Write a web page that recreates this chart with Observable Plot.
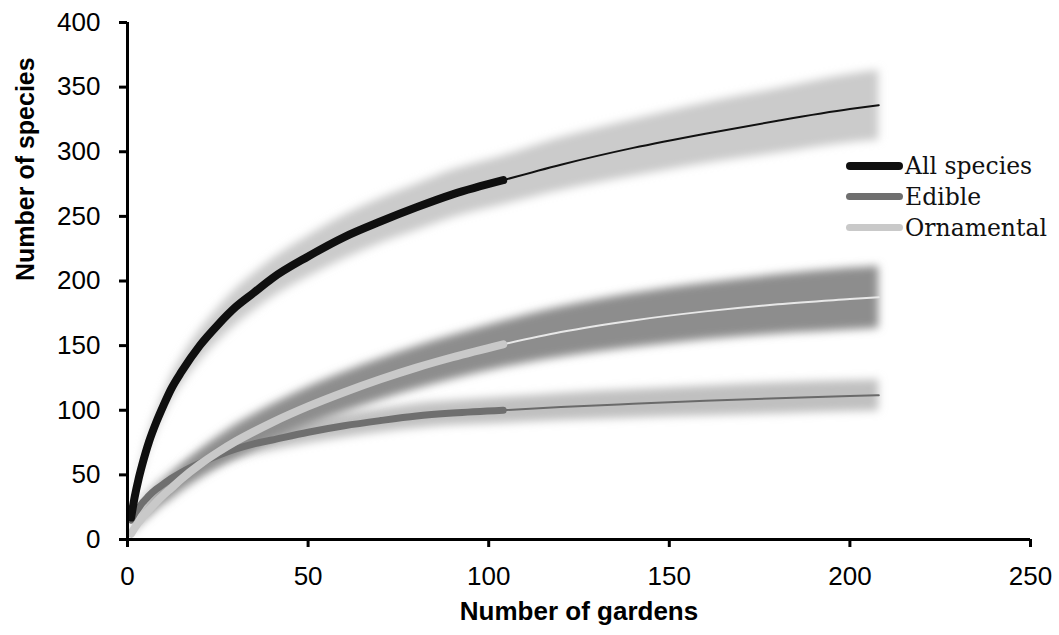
<!DOCTYPE html>
<html>
<head>
<meta charset="utf-8">
<script src="https://cdn.jsdelivr.net/npm/d3@7"></script>
<script src="https://cdn.jsdelivr.net/npm/@observablehq/plot@0.6"></script>
<style>
  html, body { margin: 0; padding: 0; background: #fff; }
  #wrap { position: relative; width: 1059px; height: 635px; }
  #legend { position: absolute; left: 846px; top: 150px; font-family: "DejaVu Serif", serif; font-size: 23.5px; color: #111; }
  .row { display: flex; align-items: center; height: 31px; }
  .sw { width: 57px; border-radius: 5px; margin-right: 2px; }
</style>
</head>
<body>
<div id="wrap"><div id="legend"></div></div>
<script>
// ---- data ----
const seriesNames = ["All species", "Edible", "Ornamental"];
const lineColors = ["#0f0f0f", "#6f6f6f", "#c9c9c9"];
const thinColors = ["#111111", "#6a6a6a", "#e8e8e8"];
const bandColors = ["#cbcbcb", "#c0c0c0", "#8d8d8d"];
const observedLimit = 104;

const gardens = [1,2,3,4,5,6,8,10,12,15,20,25,30,35,40,50,60,70,80,90,104,120,140,160,180,200,208];

const allSpecies = [17,33,46,57,67,76,91,104,116,130,150,166,180,191,202,219,234,246,257,267,278,290,303,314,324,333,336];
const allLower   = [15,30,42,52,61,70,84,96,107,120,138,153,166,177,187,203,217,229,239,249,259,270,281,291,299,307,309];
const allUpper   = [19,36,50,62,73,83,99,113,126,141,162,179,194,206,217,235,251,264,275,286,297,311,325,338,349,360,363];

const edible      = [15,20,24,28,31,34,39,43,47,52,59,65,70,74,77,83,88,92,95.5,97.8,100,102.5,105,107.3,109.3,111,111.6];
const edibleLower = [13.5,18,21.5,25,27.5,30,34.5,38,41.5,46,52.5,58,62.5,66,69,74.5,79,83,86,88.3,90,92,94,95.8,97.3,99,99.6];
const edibleUpper = [16.5,22,26.5,31,34.5,38,43.5,48,52.5,58,65.5,72,77.5,82,85,91.5,97,101,105,107.3,110,113,116,118.8,121.3,123,123.6];

const ornamental      = [4.5,9,13,16.5,20,23,29,34.5,39.5,47,58,67.5,76,83.5,90.5,103,114,124,133,141,151,160.5,169.5,176.5,182,186,187.5];
const ornamentalLower = [3,6.5,9.5,12.5,15,17.5,22.5,27,31,37.5,47,55.5,63,70,76.5,88,98.5,108,116.5,124,133,141,148.5,154.5,159,162,163.5];
const ornamentalUpper = [6,11.5,16.5,20.5,25,28.5,35.5,42,48,56.5,69,79.5,89,97,104.5,118,129.5,140,149.5,158,169,180,190.5,198.5,205,210,211.5];

const xTicks = [0,50,100,150,200,250];
const yTicks = [0,50,100,150,200,250,300,350,400];

// ---- table ----
const rows = gardens.map((g, i) => ({
  g,
  all: allSpecies[i], allLo: allLower[i], allHi: allUpper[i],
  ed: edible[i], edLo: edibleLower[i], edHi: edibleUpper[i],
  orn: ornamental[i], ornLo: ornamentalLower[i], ornHi: ornamentalUpper[i]
}));
const obs = rows.filter(d => d.g <= observedLimit);
const ext = rows.filter(d => d.g >= observedLimit);

const curve = "monotone-x";
const thick = (key, color, w) => Plot.line(obs, {x: "g", y: key, stroke: color, strokeWidth: w, strokeLinecap: "round", strokeLinejoin: "round", curve});
const thin = (key, color, w) => Plot.line(ext, {x: "g", y: key, stroke: color, strokeWidth: w, curve});

const chart = Plot.plot({
  width: 1059,
  height: 635,
  marginLeft: 127,
  marginRight: 29,
  marginTop: 22,
  marginBottom: 96,
  style: {fontFamily: "'Liberation Sans', Arial, sans-serif", fontSize: "26px", color: "#000", background: "#fff", overflow: "visible"},
  x: {domain: [0, 250]},
  y: {domain: [0, 400]},
  marks: [
    Plot.areaY(rows, {x: "g", y1: "allLo", y2: "allHi", fill: bandColors[0], curve}),
    Plot.areaY(rows, {x: "g", y1: "edLo", y2: "edHi", fill: bandColors[1], curve}),
    Plot.areaY(rows, {x: "g", y1: "ornLo", y2: "ornHi", fill: bandColors[2], curve}),
    thin("ed", thinColors[1], 2),
    thick("ed", lineColors[1], 7),
    thin("orn", thinColors[2], 2),
    thick("orn", lineColors[2], 8),
    thin("all", thinColors[0], 2),
    thick("all", lineColors[0], 8),
    Plot.ruleX([0], {stroke: "#000", strokeWidth: 3}),
    Plot.ruleY([0], {stroke: "#000", strokeWidth: 3}),
    Plot.axisX({ticks: xTicks, tickSize: 8, tickPadding: 19, strokeWidth: 3, fontSize: 26, label: null}),
    Plot.axisY({ticks: yTicks, tickSize: 8, tickPadding: 19, strokeWidth: 3, fontSize: 26, label: null}),
    Plot.text(["Number of gardens"], {text: d => d, frameAnchor: "bottom", dy: 80, fontSize: 26, fontWeight: "bold"}),
    Plot.text(["Number of species"], {text: d => d, frameAnchor: "left", dx: -102, rotate: -90, fontSize: 25, fontWeight: "bold"})
  ]
});

// soft edges on the confidence bands
const ns = "http://www.w3.org/2000/svg";
const defs = document.createElementNS(ns, "defs");
const filter = document.createElementNS(ns, "filter");
filter.setAttribute("id", "soft");
filter.setAttribute("x", "-10%"); filter.setAttribute("y", "-20%");
filter.setAttribute("width", "120%"); filter.setAttribute("height", "140%");
const blur = document.createElementNS(ns, "feGaussianBlur");
blur.setAttribute("stdDeviation", "4");
filter.appendChild(blur);
defs.appendChild(filter);
chart.insertBefore(defs, chart.firstChild);
chart.querySelectorAll('g[aria-label="area"]').forEach(g => g.setAttribute("filter", "url(#soft)"));

const wrap = document.getElementById("wrap");
wrap.insertBefore(chart, wrap.firstChild);

// legend
const legend = document.getElementById("legend");
const swHeights = [8, 7, 7];
seriesNames.forEach((name, i) => {
  const row = document.createElement("div");
  row.className = "row";
  const sw = document.createElement("div");
  sw.className = "sw";
  sw.style.height = swHeights[i] + "px";
  sw.style.background = lineColors[i];
  const t = document.createElement("span");
  t.textContent = name;
  row.appendChild(sw);
  row.appendChild(t);
  legend.appendChild(row);
});
</script>
</body>
</html>
